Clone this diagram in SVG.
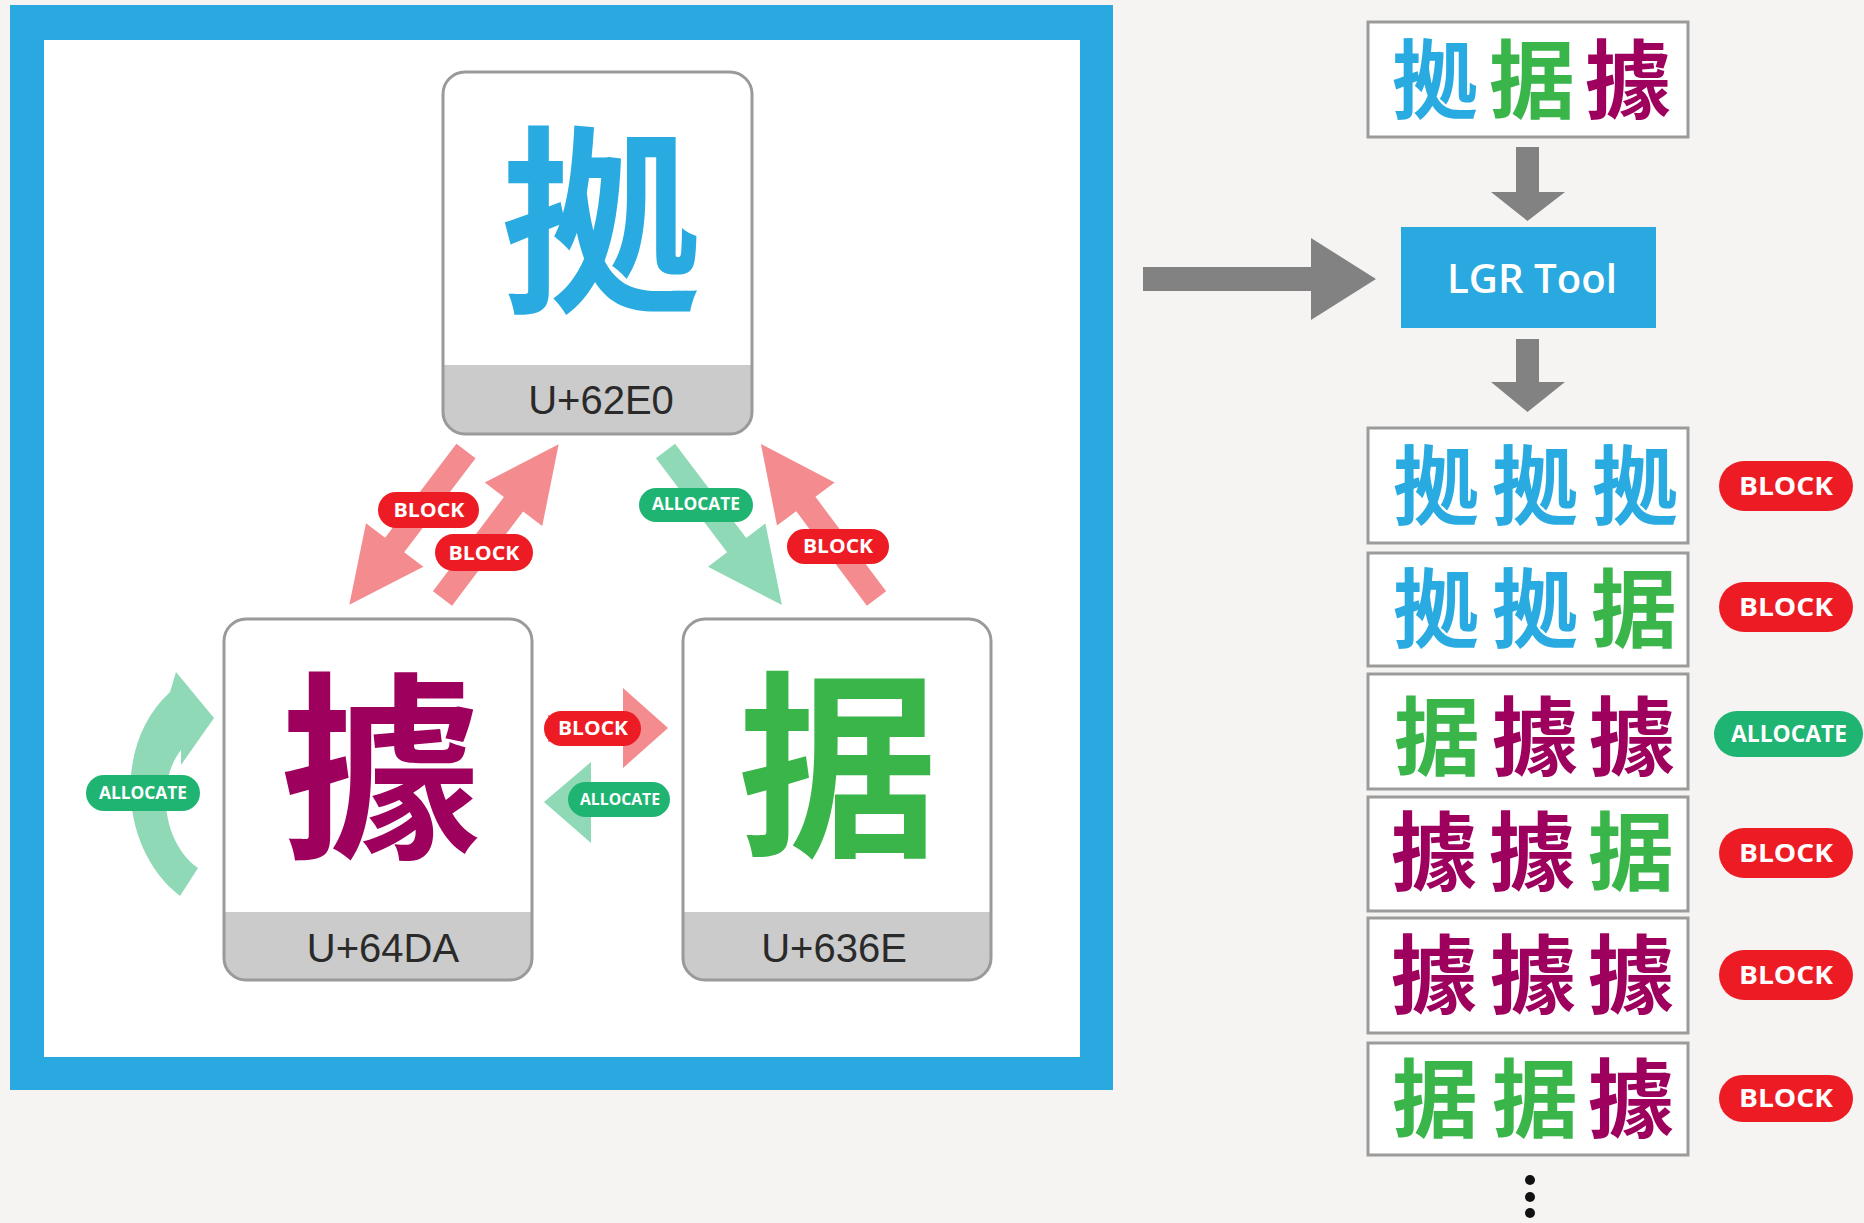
<svg xmlns="http://www.w3.org/2000/svg" xmlns:xlink="http://www.w3.org/1999/xlink" width="1864" height="1223" viewBox="0 0 1864 1223">
<style>
.cjk{font-family:"Noto Sans CJK JP","Noto Sans CJK SC",sans-serif;font-weight:700;text-anchor:middle}
.big{font-size:200px}
.sm{font-size:86px}
.blue{fill:#29ABE2}.green{fill:#39B54A}.mag{fill:#9E005D}
.code{font-family:"Liberation Sans",Arial,sans-serif;font-size:40px;fill:#2a2a2a;text-anchor:middle}
.card{fill:#fff}
.cardb{fill:none;stroke:#9a9a9a;stroke-width:3}
.foot{fill:#CBCBCB}
.pill{font-family:"Open Sans","Liberation Sans",sans-serif;font-weight:700;fill:#fff;text-anchor:middle}
.red{fill:#ED1C24}.grn{fill:#20B473}
.pa{fill:#F38B8F}.ga{fill:#8FD9B7}
.gray{fill:#828282}
.row{fill:#fff;stroke:#9b9b9b;stroke-width:3}
</style>
<defs>
<path id="diag" d="M0,-12 H118 V-36 L193,0 L118,36 V12 H0 Z"/>
</defs>
<rect x="0" y="0" width="1864" height="1223" fill="#F5F4F2"/>

<g id="frame">
<rect x="10" y="5" width="1103" height="1085" fill="#29A9E0"/>
<rect x="44" y="40" width="1036" height="1017" fill="#fff"/>
</g>

<g id="connectors">
<use xlink:href="#diag" class="pa" transform="translate(466,451) rotate(127.2)"/>
<use xlink:href="#diag" class="pa" transform="translate(442.5,598.5) rotate(-53)"/>
<use xlink:href="#diag" class="ga" transform="translate(665.5,451) rotate(52.9)"/>
<use xlink:href="#diag" class="pa" transform="translate(876.5,598.5) rotate(-126.8)"/>
<path class="pa" d="M548,715 H623 V688 L668,728 L623,768 V742 H548 Z"/>
<path class="ga" d="M640,788 H591 V762 L544,802 L591,843 V816 H640 Z"/>
<path class="ga" d="M180,896 C120,850 112,745 170,692 L176,672 L214,718 L181,765 L181,750 C156,782 162,842 198,868 Z"/>
<g id="pill-block-1"><rect class="red" x="378" y="492" width="101" height="36" rx="18"/><text class="pill" x="429" y="517" font-size="20" textLength="71" lengthAdjust="spacingAndGlyphs">BLOCK</text></g>
<g id="pill-block-2"><rect class="red" x="435" y="534" width="98" height="37" rx="18.5"/><text class="pill" x="484" y="560" font-size="20" textLength="71" lengthAdjust="spacingAndGlyphs">BLOCK</text></g>
<g id="pill-alloc-1"><rect class="grn" x="639" y="488" width="114" height="34" rx="17"/><text class="pill" x="696" y="510" font-size="17" textLength="88" lengthAdjust="spacingAndGlyphs">ALLOCATE</text></g>
<g id="pill-block-3"><rect class="red" x="787" y="529" width="102" height="35" rx="17.5"/><text class="pill" x="838" y="553" font-size="20" textLength="70" lengthAdjust="spacingAndGlyphs">BLOCK</text></g>
<g id="pill-block-4"><rect class="red" x="544" y="711" width="97" height="35" rx="17.5"/><text class="pill" x="593" y="735" font-size="20" textLength="70" lengthAdjust="spacingAndGlyphs">BLOCK</text></g>
<g id="pill-alloc-2"><rect class="grn" x="568" y="782" width="102" height="35" rx="17.5"/><text class="pill" x="620" y="805" font-size="16" textLength="80" lengthAdjust="spacingAndGlyphs">ALLOCATE</text></g>
<g id="pill-alloc-3"><rect class="grn" x="86" y="775" width="114" height="36" rx="18"/><text class="pill" x="143" y="799" font-size="17" textLength="88" lengthAdjust="spacingAndGlyphs">ALLOCATE</text></g>
</g>

<g id="node-62E0">
<rect class="card" x="443" y="72" width="309" height="362" rx="22"/>
<path class="foot" d="M443,365 H752 V412 A22,22 0 0 1 730,434 H465 A22,22 0 0 1 443,412 Z"/>
<rect class="cardb" x="443" y="72" width="309" height="362" rx="22"/>
<text class="cjk big blue" x="601" y="296">拠</text>
<text class="code" x="601" y="414">U+62E0</text>
</g>

<g id="node-64DA">
<rect class="card" x="224" y="619" width="308" height="361" rx="22"/>
<path class="foot" d="M224,912 H532 V958 A22,22 0 0 1 510,980 H246 A22,22 0 0 1 224,958 Z"/>
<rect class="cardb" x="224" y="619" width="308" height="361" rx="22"/>
<text class="cjk big mag" x="381" y="842">據</text>
<text class="code" x="383" y="962">U+64DA</text>
</g>

<g id="node-636E">
<rect class="card" x="683" y="619" width="308" height="361" rx="22"/>
<path class="foot" d="M683,912 H991 V958 A22,22 0 0 1 969,980 H705 A22,22 0 0 1 683,958 Z"/>
<rect class="cardb" x="683" y="619" width="308" height="361" rx="22"/>
<text class="cjk big green" x="838" y="841">据</text>
<text class="code" x="834" y="962">U+636E</text>
</g>

<g id="flow-arrows">
<path class="gray" d="M1143,267 H1311 V238 L1376,279 L1311,320 V291 H1143 Z"/>
<path class="gray" d="M1516,147 H1539 V192 H1565 L1527.5,221 L1491,192 H1516 Z"/>
<path class="gray" d="M1516,339 H1539 V382 H1565 L1527.5,412 L1491,382 H1516 Z"/>
</g>

<g id="input">
<rect class="row" x="1368" y="22" width="320" height="115"/>
<text class="cjk sm blue" x="1435" y="112">拠</text>
<text class="cjk sm green" x="1532" y="112">据</text>
<text class="cjk sm mag" x="1628" y="112">據</text>
</g>

<g id="lgr-tool">
<rect x="1401" y="227" width="255" height="101" fill="#29A9E0"/>
<text x="1532" y="293" font-family="Open Sans, Liberation Sans, sans-serif" font-weight="600" font-size="40" fill="#fff" text-anchor="middle" textLength="170" lengthAdjust="spacingAndGlyphs">LGR Tool</text>
</g>

<g id="row-1">
<rect class="row" x="1368" y="428" width="320" height="115"/>
<text class="cjk sm blue" x="1436" y="518">拠</text><text class="cjk sm blue" x="1535" y="518">拠</text><text class="cjk sm blue" x="1635" y="518">拠</text>
<rect class="red" x="1719" y="461" width="134" height="50" rx="25"/><text class="pill" x="1786" y="495" font-size="25" textLength="94" lengthAdjust="spacingAndGlyphs">BLOCK</text>
</g>
<g id="row-2">
<rect class="row" x="1368" y="553" width="320" height="113"/>
<text class="cjk sm blue" x="1436" y="641">拠</text><text class="cjk sm blue" x="1535" y="641">拠</text><text class="cjk sm green" x="1634" y="641">据</text>
<rect class="red" x="1719" y="582" width="134" height="50" rx="25"/><text class="pill" x="1786" y="616" font-size="25" textLength="94" lengthAdjust="spacingAndGlyphs">BLOCK</text>
</g>
<g id="row-3">
<rect class="row" x="1368" y="674" width="320" height="115"/>
<text class="cjk sm green" x="1437" y="769">据</text><text class="cjk sm mag" x="1535" y="769">據</text><text class="cjk sm mag" x="1632" y="769">據</text>
<rect class="grn" x="1714" y="711" width="149" height="46" rx="23"/><text class="pill" x="1789" y="742" font-size="23" textLength="116" lengthAdjust="spacingAndGlyphs">ALLOCATE</text>
</g>
<g id="row-4">
<rect class="row" x="1368" y="797" width="320" height="114"/>
<text class="cjk sm mag" x="1434" y="884">據</text><text class="cjk sm mag" x="1532" y="884">據</text><text class="cjk sm green" x="1631" y="884">据</text>
<rect class="red" x="1719" y="828" width="134" height="50" rx="25"/><text class="pill" x="1786" y="862" font-size="25" textLength="94" lengthAdjust="spacingAndGlyphs">BLOCK</text>
</g>
<g id="row-5">
<rect class="row" x="1368" y="918" width="320" height="115"/>
<text class="cjk sm mag" x="1434" y="1007">據</text><text class="cjk sm mag" x="1533" y="1007">據</text><text class="cjk sm mag" x="1631" y="1007">據</text>
<rect class="red" x="1719" y="950" width="134" height="50" rx="25"/><text class="pill" x="1786" y="984" font-size="25" textLength="94" lengthAdjust="spacingAndGlyphs">BLOCK</text>
</g>
<g id="row-6">
<rect class="row" x="1368" y="1043" width="320" height="112"/>
<text class="cjk sm green" x="1435" y="1131">据</text><text class="cjk sm green" x="1535" y="1131">据</text><text class="cjk sm mag" x="1631" y="1131">據</text>
<rect class="red" x="1719" y="1075" width="134" height="47" rx="23.5"/><text class="pill" x="1786" y="1107" font-size="25" textLength="94" lengthAdjust="spacingAndGlyphs">BLOCK</text>
</g>
<g id="ellipsis" fill="#111">
<circle cx="1530" cy="1180" r="5"/><circle cx="1530" cy="1197" r="5"/><circle cx="1530" cy="1213" r="5"/>
</g>
</svg>
